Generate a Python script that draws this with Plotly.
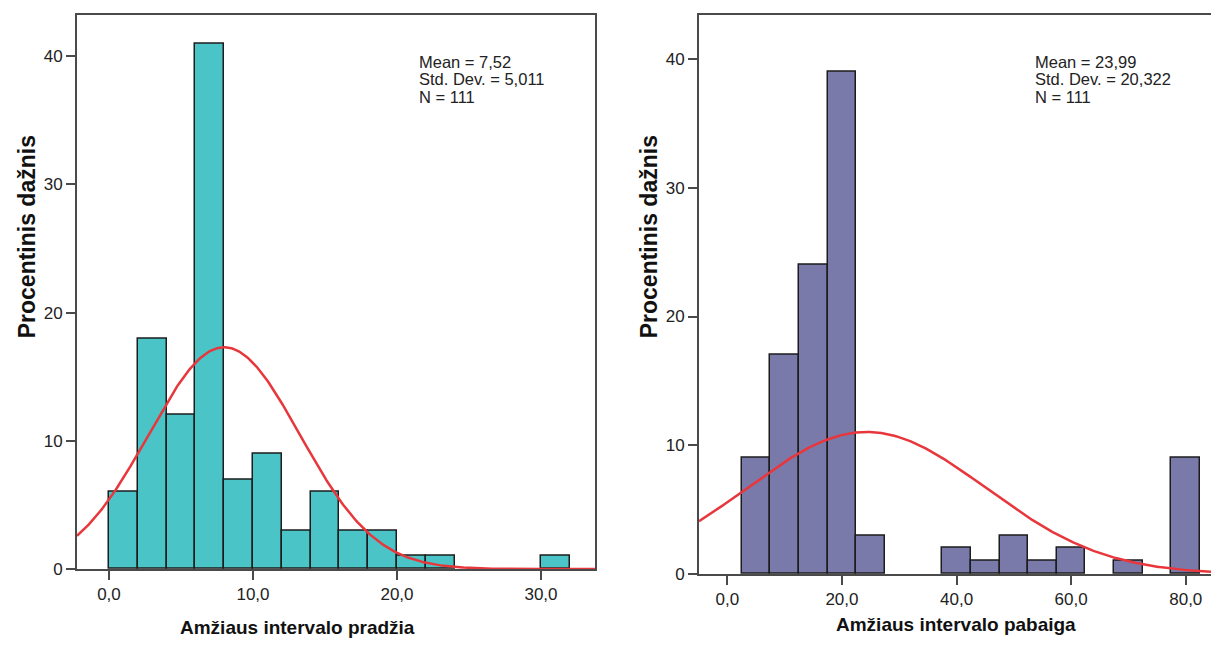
import numpy as np
import plotly.graph_objects as go

# ---------------- data ----------------
left_bin_start = [0, 2, 4, 6, 8, 10, 12, 14, 16, 18, 20, 22, 30]
left_pct = [6, 18, 12, 41, 7, 9, 3, 6, 3, 3, 1, 1, 1]
left_bin_width = 2

right_bin_start = [2.5, 7.5, 12.5, 17.5, 22.5, 37.5, 42.5, 47.5, 52.5, 57.5, 67.5, 77.5]
right_pct = [9, 17, 24, 39, 3, 2, 1, 3, 1, 2, 1, 9]
right_bin_width = 5

# normal curve parameters as drawn (centre, spread, peak height in %)
left_curve = dict(center=8.0, sd=5.25, peak=17.3)
right_curve = dict(center=24.3, sd=20.8, peak=11.03)

left_stats = ["Mean = 7,52", "Std. Dev. = 5,011", "N = 111"]
right_stats = ["Mean = 23,99", "Std. Dev. = 20,322", "N = 111"]

left_xticks = [0, 10, 20, 30]
left_xticklabels = ["0,0", "10,0", "20,0", "30,0"]
right_xticks = [0, 20, 40, 60, 80]
right_xticklabels = ["0,0", "20,0", "40,0", "60,0", "80,0"]
yticks = [0, 10, 20, 30, 40]
yticklabels = ["0", "10", "20", "30", "40"]

left_xtitle = "Amžiaus intervalo pradžia"
right_xtitle = "Amžiaus intervalo pabaiga"
ytitle = "Procentinis dažnis"

# ---------------- styling ----------------
W, H = 1211, 647
FONT = "Liberation Sans, Arial, sans-serif"
LEFT_FILL = "#4BC4C7"
RIGHT_FILL = "#7A7AAA"
EDGE = "#1c1c1c"
CURVE = "#E8373C"
FRAME = "#4a4a4a"

left_xrange = [-2.22, 33.75]
right_xrange = [-4.94, 84.4]
left_yrange = [0, 43.24]
right_yrange = [0, 43.44]


def px_x(p):
    return p / W


def px_y(p):
    return 1 - p / H


fig = go.Figure()

# bars
fig.add_trace(go.Bar(
    x=[s + left_bin_width / 2 for s in left_bin_start], y=left_pct,
    width=left_bin_width, marker=dict(color=LEFT_FILL, line=dict(color=EDGE, width=1.5)),
    xaxis="x", yaxis="y", showlegend=False, hoverinfo="x+y"))
fig.add_trace(go.Bar(
    x=[s + right_bin_width / 2 for s in right_bin_start], y=right_pct,
    width=right_bin_width, marker=dict(color=RIGHT_FILL, line=dict(color=EDGE, width=1.5)),
    xaxis="x2", yaxis="y2", showlegend=False, hoverinfo="x+y"))

# normal curves
for rng, c, xa, ya in [(left_xrange, left_curve, "x", "y"), (right_xrange, right_curve, "x2", "y2")]:
    xs = np.linspace(rng[0], rng[1], 400)
    ys = c["peak"] * np.exp(-((xs - c["center"]) ** 2) / (2 * c["sd"] ** 2))
    fig.add_trace(go.Scatter(x=xs, y=ys, mode="lines", line=dict(color=CURVE, width=2.5),
                             xaxis=xa, yaxis=ya, showlegend=False, hoverinfo="skip"))

axis_common = dict(showgrid=False, zeroline=False, showline=True, linecolor=FRAME, linewidth=2,
                   ticks="outside", ticklen=9, tickwidth=2, tickcolor=FRAME,
                   tickfont=dict(family=FONT, size=17, color="#222"))

fig.update_layout(
    width=W, height=H, margin=dict(l=0, r=0, t=0, b=0),
    paper_bgcolor="white", plot_bgcolor="white", bargap=0,
    xaxis=dict(domain=[px_x(77), px_x(595)], range=left_xrange, anchor="y", mirror=True,
               tickvals=left_xticks, ticktext=left_xticklabels, **axis_common),
    yaxis=dict(domain=[px_y(578), px_y(15)], range=left_yrange, anchor="x", mirror=True,
               tickvals=yticks, ticktext=yticklabels, **axis_common),
    xaxis2=dict(domain=[px_x(699), 1.0], range=right_xrange, anchor="y2", mirror=True,
                tickvals=right_xticks, ticktext=right_xticklabels, **axis_common),
    yaxis2=dict(domain=[px_y(583), px_y(15)], range=right_yrange, anchor="x2", mirror=False,
                tickvals=yticks, ticktext=yticklabels, **axis_common),
)

annotations = []
# stats text
for x0, lines in [(418, left_stats), (1034, right_stats)]:
    for i, t in enumerate(lines):
        annotations.append(dict(x=px_x(x0), y=px_y(62.5 + 18 * i), xref="paper", yref="paper",
                                text=t, showarrow=False, xanchor="left", yanchor="middle",
                                borderpad=0,
                                font=dict(family=FONT, size=16.5, color="#222")))
# axis titles
annotations.append(dict(x=px_x(297.5), y=px_y(637), xref="paper", yref="paper", text=left_xtitle,
                        showarrow=False, xanchor="center", yanchor="middle",
                        font=dict(family=FONT, size=19, color="#111", weight="bold")))
annotations.append(dict(x=px_x(956), y=px_y(634), xref="paper", yref="paper", text=right_xtitle,
                        showarrow=False, xanchor="center", yanchor="middle",
                        font=dict(family=FONT, size=19, color="#111", weight="bold")))
for xc in [27, 649]:
    annotations.append(dict(x=px_x(xc), y=px_y(241), xref="paper", yref="paper", text=ytitle,
                            showarrow=False, xanchor="center", yanchor="middle", textangle=-90,
                            font=dict(family=FONT, size=23, color="#111", weight="bold")))
fig.update_layout(annotations=annotations)

fig.write_html(
    "out.html",
    config={"displayModeBar": False},
    post_script="document.body.style.margin='0';document.body.style.overflow='hidden';",
)
